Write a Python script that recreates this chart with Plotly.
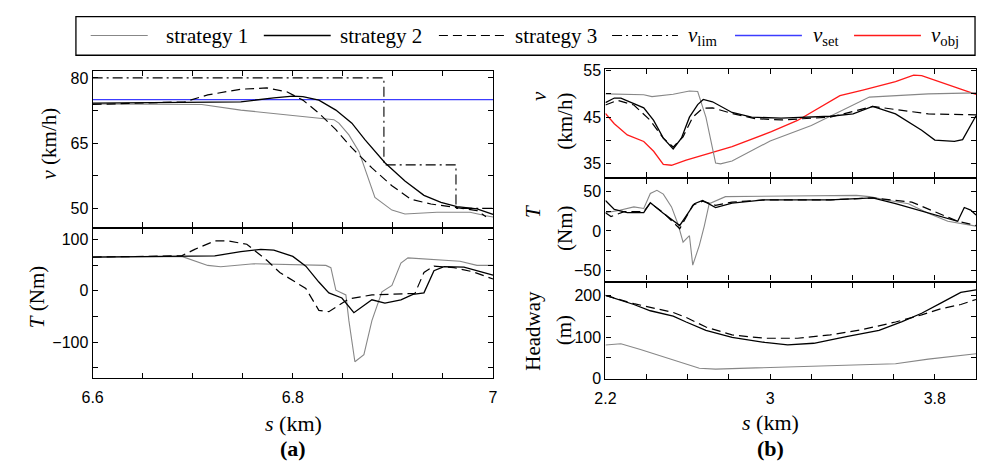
import plotly.graph_objects as go

W, H = 982, 463

# ---------------- panel (a): speed / torque, s = 6.6 ... 7 km ----------------
s_a1 = [6.6, 6.689, 6.709, 6.748, 6.797, 6.841, 6.846, 6.856, 6.866, 6.874, 6.882,
        6.899, 6.912, 6.944, 6.977, 6.993, 7.0]
v_a1 = [74.0, 74.0, 73.9, 72.6, 71.5, 70.4, 69.6, 66.9, 63.1, 57.8, 52.5,
        49.6, 48.7, 49.1, 49.1, 48.3, 48.0]

s_a2 = [6.6, 6.748, 6.781, 6.8, 6.81, 6.826, 6.843, 6.859, 6.872, 6.892, 6.912,
        6.931, 6.948, 6.964, 6.984, 7.0]
v_a2 = [74.2, 74.5, 75.4, 75.8, 75.7, 74.9, 72.6, 69.6, 65.8, 60.5, 56.3,
        53.0, 51.4, 50.4, 49.9, 48.6]

s_a3 = [6.6, 6.692, 6.715, 6.748, 6.774, 6.794, 6.81, 6.826, 6.843, 6.859, 6.879,
        6.899, 6.918, 6.938, 6.957, 6.984, 6.993]
v_a3 = [73.9, 74.5, 76.1, 77.4, 77.7, 76.8, 74.9, 71.9, 68.1, 63.9, 59.3,
        55.2, 52.1, 51.0, 50.4, 49.5, 48.1]

s_lim = [6.6, 6.891, 6.891, 6.963, 6.963, 7.0]
v_lim = [80, 80, 60, 60, 50, 50]

s_set = [6.6, 7.0]
v_set = [75, 75]

sT_a1 = [6.6, 6.689, 6.715, 6.728, 6.761, 6.833, 6.838, 6.843, 6.853, 6.856, 6.862,
         6.871, 6.879, 6.889, 6.899, 6.908, 6.915, 6.944, 6.967, 6.984, 7.0]
T_a1 = [65.6, 66.9, 49.4, 46.9, 52.5, 49.4, 45.0, 1.3, -8.0, -58.0, -138.0,
        -124.0, -58.0, -2.0, 10.6, 54.0, 64.0, 60.6, 57.5, 49.4, 49.4]

sT_a2 = [6.6, 6.689, 6.722, 6.748, 6.768, 6.781, 6.8, 6.813, 6.826, 6.836, 6.849,
         6.861, 6.879, 6.892, 6.908, 6.92, 6.931, 6.941, 6.951, 6.971, 7.0]
T_a2 = [65.6, 66.9, 68.0, 76.0, 80.6, 79.0, 66.9, 48.0, 17.0, -4.0, -14.0,
        -42.5, -17.5, -24.0, -17.5, -7.0, -4.0, 39.0, 47.0, 46.0, 30.6]

sT_a3 = [6.6, 6.689, 6.702, 6.722, 6.735, 6.754, 6.774, 6.787, 6.813, 6.826, 6.836,
         6.856, 6.879, 6.922, 6.931, 6.941, 6.961, 6.98, 7.0]
T_a3 = [65.6, 68.0, 80.6, 97.0, 97.0, 90.6, 59.4, 35.6, 4.4, -38.0, -40.6,
        -15.6, -8.0, -5.0, 35.6, 48.0, 45.0, 37.0, 23.0]

# ---------------- panel (b): speed / torque / headway, s = 2.2 ... 4 km ----------------
s_b1 = [2.2, 2.386, 2.426, 2.529, 2.608, 2.648, 2.688, 2.735, 2.759, 2.815, 3.0,
        3.2, 3.482, 3.768, 4.0]
v_b1 = [50.0, 49.8, 49.4, 49.9, 50.6, 50.5, 45.0, 35.2, 35.0, 35.6, 39.9,
        43.2, 49.3, 50.0, 50.2]

s_b2 = [2.2, 2.243, 2.275, 2.338, 2.386, 2.434, 2.481, 2.529, 2.569, 2.608, 2.648,
        2.675, 2.72, 2.815, 2.91, 3.053, 3.292, 3.403, 3.498, 3.609, 3.736, 3.8,
        3.895, 3.935, 4.0]
v_b2 = [48.1, 49.1, 49.1, 47.9, 47.0, 44.3, 40.5, 38.2, 40.5, 45.0, 47.7,
        48.8, 48.3, 46.0, 45.0, 44.8, 45.2, 45.7, 47.3, 45.7, 42.2, 40.1,
        39.8, 40.2, 45.3]

s_b3 = [2.2, 2.259, 2.338, 2.418, 2.481, 2.529, 2.577, 2.624, 2.672, 2.72, 2.815,
        2.926, 3.053, 3.292, 3.498, 3.609, 3.768, 4.0]
v_b3 = [47.6, 48.6, 47.6, 44.3, 40.5, 38.6, 40.8, 45.0, 46.9, 47.0, 45.8,
        44.7, 44.4, 45.0, 47.3, 46.6, 45.7, 45.5]

s_obj = [2.2, 2.243, 2.306, 2.386, 2.434, 2.481, 2.521, 2.592, 2.815, 3.006, 3.133,
         3.339, 3.45, 3.609, 3.697, 3.736, 4.0]
v_obj = [45.8, 43.6, 41.2, 39.8, 37.7, 34.9, 34.7, 35.8, 38.7, 41.9, 44.3,
         49.6, 50.8, 52.6, 54.0, 53.9, 49.9]

sT_b1 = [2.2, 2.259, 2.338, 2.386, 2.418, 2.45, 2.481, 2.521, 2.553, 2.577, 2.608,
         2.624, 2.656, 2.68, 2.704, 2.783, 3.419, 3.482, 3.577, 3.672, 3.768, 3.863, 4.0]
T_b1 = [23.2, 25.6, 30.5, 28.5, 47.6, 51.6, 46.7, 30.5, 8.1, -14.2, -6.1,
        -43.5, -18.3, 6.1, 34.6, 43.5, 45.1, 43.5, 38.6, 34.6, 22.4, 12.2, 6.1]

sT_b2 = [2.2, 2.243, 2.306, 2.386, 2.418, 2.481, 2.561, 2.632, 2.672, 2.735, 2.815,
         2.974, 3.292, 3.498, 3.609, 3.768, 3.911, 3.943, 3.974, 4.0]
T_b2 = [38.6, 27.2, 23.2, 23.2, 35.8, 22.4, 6.9, 34.6, 38.6, 29.7, 35.4,
        39.4, 39.4, 41.9, 34.6, 22.4, 12.2, 29.7, 26.4, 20.3]

sT_b3 = [2.2, 2.227, 2.291, 2.386, 2.418, 2.481, 2.561, 2.624, 2.672, 2.735, 2.815,
         2.974, 3.292, 3.498, 3.688, 3.8, 3.911, 4.0]
T_b3 = [23.2, 18.3, 24.4, 24.4, 35.4, 23.2, 2.8, 32.5, 37.8, 32.5, 36.6,
        39.4, 39.4, 41.9, 36.6, 24.4, 12.2, 6.9]

sH_b1 = [2.2, 2.275, 2.37, 2.497, 2.592, 2.656, 2.735, 2.974, 3.292, 3.609, 3.768, 4.0]
H_b1 = [81, 84, 70, 50, 35, 25, 23, 27, 31, 36, 47, 60]

sH_b2 = [2.2, 2.338, 2.418, 2.529, 2.592, 2.688, 2.815, 2.974, 3.085, 3.212, 3.37,
         3.529, 3.641, 3.736, 3.831, 3.926, 4.0]
H_b2 = [200, 178, 163, 150, 136, 116, 99, 87, 81, 85, 101, 116, 137, 157, 182, 207, 213]

sH_b3 = [2.2, 2.338, 2.529, 2.592, 2.688, 2.815, 2.974, 3.133, 3.292, 3.45, 3.609,
         3.736, 3.831, 3.926, 4.0]
H_b3 = [200, 180, 159, 147, 124, 105, 97, 97, 105, 118, 136, 153, 168, 178, 190]

# ---------------- ticks: labelled values and minor step ----------------
xa_ticks, xa_labels, xa_minor = [6.6, 6.8, 7.0], ["6.6", "6.8", "7"], 0.05
xb_ticks, xb_labels, xb_minor = [2.2, 3.0, 3.8], ["2.2", "3", "3.8"], 0.2
va_ticks, va_labels, va_minor = [50, 65, 80], ["50", "65", "80"], 7.5
Ta_ticks, Ta_labels, Ta_minor = [-100, 0, 100], ["\u2212100", "0", "100"], 50
vb_ticks, vb_labels, vb_minor = [35, 45, 55], ["35", "45", "55"], 5
Tb_ticks, Tb_labels, Tb_minor = [-50, 0, 50], ["\u221250", "0", "50"], 25
Hb_ticks, Hb_labels, Hb_minor = [0, 100, 200], ["0", "100", "200"], 50

# ---------------- styles ----------------
GRAY = "rgb(135,135,135)"
BLACK = "black"
BLUE = "#3c3cff"
RED = "#ff1a1a"
st1 = dict(color=GRAY, width=1.1)
st2 = dict(color=BLACK, width=1.3)
st3 = dict(color=BLACK, width=1.2, dash="9px,5px")
stlim = dict(color=BLACK, width=1.1, dash="10px,4px,2px,4px")
stset = dict(color=BLUE, width=1.4)
stobj = dict(color=RED, width=1.3)


def px(x):
    return x / W


def py(y):
    return 1 - y / H


fig = go.Figure()


def add(xs, ys, style, xa, ya):
    fig.add_trace(go.Scatter(x=xs, y=ys, mode="lines", line=style,
                             xaxis=xa, yaxis=ya, showlegend=False, hoverinfo="skip"))


# (a) top: speed
add(s_lim, v_lim, stlim, "x", "y")
add(s_set, v_set, stset, "x", "y")
add(s_a1, v_a1, st1, "x", "y")
add(s_a3, v_a3, st3, "x", "y")
add(s_a2, v_a2, st2, "x", "y")
# (a) bottom: torque
add(sT_a1, T_a1, st1, "x2", "y2")
add(sT_a3, T_a3, st3, "x2", "y2")
add(sT_a2, T_a2, st2, "x2", "y2")
# (b) top: speed
add(s_obj, v_obj, stobj, "x3", "y3")
add(s_b1, v_b1, st1, "x3", "y3")
add(s_b3, v_b3, st3, "x3", "y3")
add(s_b2, v_b2, st2, "x3", "y3")
# (b) middle: torque
add(sT_b1, T_b1, st1, "x4", "y4")
add(sT_b3, T_b3, st3, "x4", "y4")
add(sT_b2, T_b2, st2, "x4", "y4")
# (b) bottom: headway
add(sH_b1, H_b1, st1, "x5", "y5")
add(sH_b3, H_b3, st3, "x5", "y5")
add(sH_b2, H_b2, st2, "x5", "y5")

TICKFONT = dict(family="Liberation Sans, Arial, sans-serif", size=16, color="black")
SERIF = "Liberation Serif, Times New Roman, serif"

common = dict(showline=True, linecolor="black", linewidth=1.2, mirror="ticks",
              ticks="inside", ticklen=5, tickwidth=1, tickcolor="black",
              showgrid=False, zeroline=False, tickfont=TICKFONT, fixedrange=True)


def axis(ticks, labels, step, start, rng, dom, anchor, show=True, is_x=False):
    d = dict(common, domain=dom, range=rng, anchor=anchor,
             tickmode="array", tickvals=ticks, ticktext=labels, showticklabels=show,
             minor=dict(ticks="inside", ticklen=5, tickwidth=1, tickcolor="black",
                        tick0=start, dtick=step, showgrid=False))
    if is_x:
        d["ticklabelstandoff"] = 5
    return d


# panel pixel boxes (left, right, top, bottom)
box_a1 = (83, 490, 66.7, 227.5)
box_a2 = (83, 490, 229.5, 384)
box_b1 = (604.3, 981, 64.3, 176.5)
box_b2 = (604.3, 981, 178.5, 283.3)
box_b3 = (604.3, 981, 285.7, 385)


def xdom(b):
    return [px(b[0]), px(b[1])]


def ydom(b):
    return [py(b[3]), py(b[2])]


fig.update_layout(
    width=W, height=H, margin=dict(l=0, r=0, t=0, b=0),
    paper_bgcolor="white", plot_bgcolor="white", showlegend=False,
    xaxis=axis(xa_ticks, xa_labels, xa_minor, 6.6, [6.6, 7.0], xdom(box_a1), "y",
               show=False, is_x=True),
    yaxis=axis(va_ticks, va_labels, va_minor, 50, [45.8, 81.5], ydom(box_a1), "x"),
    xaxis2=axis(xa_ticks, xa_labels, xa_minor, 6.6, [6.6, 7.0], xdom(box_a2), "y2",
                is_x=True),
    yaxis2=axis(Ta_ticks, Ta_labels, Ta_minor, 0, [-169, 121], ydom(box_a2), "x2"),
    xaxis3=axis(xb_ticks, xb_labels, xb_minor, 2.2, [2.2, 4.0], xdom(box_b1), "y3",
                show=False, is_x=True),
    yaxis3=axis(vb_ticks, vb_labels, vb_minor, 35, [32.1, 55.3], ydom(box_b1), "x3"),
    xaxis4=axis(xb_ticks, xb_labels, xb_minor, 2.2, [2.2, 4.0], xdom(box_b2), "y4",
                show=False, is_x=True),
    yaxis4=axis(Tb_ticks, Tb_labels, Tb_minor, 0, [-63, 65.5], ydom(box_b2), "x4"),
    xaxis5=axis(xb_ticks, xb_labels, xb_minor, 2.2, [2.2, 4.0], xdom(box_b3), "y5",
                is_x=True),
    yaxis5=axis(Hb_ticks, Hb_labels, Hb_minor, 0, [0, 230], ydom(box_b3), "x5"),
)

# axis titles
ann = []


def label(text, x, y, size=21, angle=-90):
    ann.append(dict(text=text, x=px(x), y=py(y), xref="paper", yref="paper",
                    showarrow=False, textangle=angle, xanchor="center", yanchor="middle",
                    font=dict(family=SERIF, size=size, color="black")))


label("<i>v</i> (km/h)", 39, 141)
label("<i>T</i> (Nm)", 26, 301)
label("<i>s</i> (km)", 287, 431, size=22, angle=0)
label("<b>(a)</b>", 287, 457, size=22, angle=0)
label("<i>v</i>", 537, 92)
label("(km/h)", 563, 118)
label("<i>T</i>", 530, 212)
label("(Nm)", 563, 229)
label("Headway", 531, 335)
label("(m)", 563, 335)
label("<i>s</i> (km)", 772, 430, size=22, angle=0)
label("<b>(b)</b>", 772, 457, size=22, angle=0)

# legend box with sample lines: (text, style, line start, line end, text start)
legend_items = [
    ("strategy 1", st1, 81, 139, 156),
    ("strategy 2", st2, 257, 325, 332),
    ("strategy 3", st3, 435, 504, 510),
    ("<i>v</i><sub>lim</sub>", stlim, 611, 678, 686),
    ("<i>v</i><sub>set</sub>", stset, 736, 804, 813),
    ("<i>v</i><sub>obj</sub>", stobj, 857, 925, 933),
]
shapes = [dict(type="rect", xref="paper", yref="paper", x0=px(66), x1=px(980),
               y0=py(50), y1=py(10), line=dict(color="black", width=1.3),
               fillcolor="white")]
for text, style, x0, x1, xt in legend_items:
    shapes.append(dict(type="line", xref="paper", yref="paper", x0=px(x0), x1=px(x1),
                       y0=py(29.5), y1=py(29.5),
                       line=dict(color=style["color"], width=style["width"],
                                 dash=style.get("dash", "solid"))))
    ann.append(dict(text=text, x=px(xt), y=py(30), xref="paper", yref="paper",
                    showarrow=False, xanchor="left", yanchor="middle",
                    font=dict(family=SERIF, size=21, color="black")))

fig.update_layout(annotations=ann, shapes=shapes)
fig.write_html("out.html")
